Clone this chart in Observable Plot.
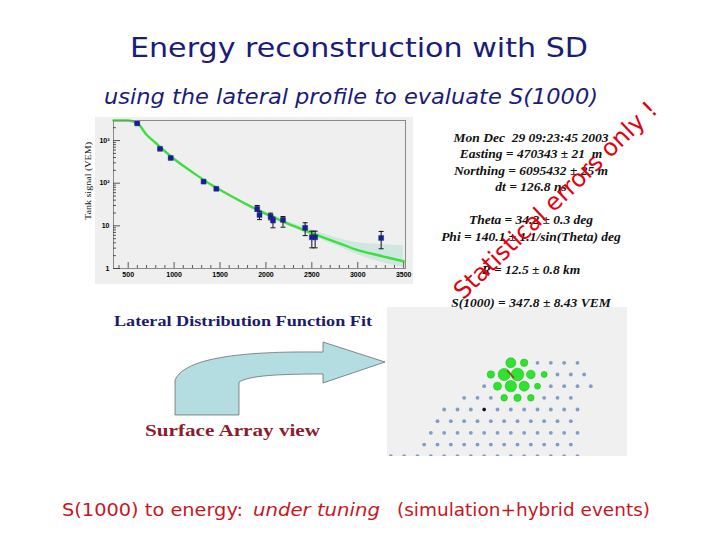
<!DOCTYPE html>
<html><head><meta charset="utf-8">
<script src="https://cdn.jsdelivr.net/npm/d3@7"></script>
<script src="https://cdn.jsdelivr.net/npm/@observablehq/plot@0.6"></script>
<style>
html,body{margin:0;padding:0;background:#fff;}
#slide{position:relative;width:720px;height:540px;overflow:hidden;background:#fff;}
.abs{position:absolute;}
</style></head><body>
<div id="slide">
  <div class="abs" style="left:95px;top:117px;width:318px;height:167px;background:#efefef"></div>
  <div class="abs" id="ldf" style="left:82px;top:110px;"></div>
  <div class="abs" id="array" style="left:387px;top:307px;width:240px;height:149px;overflow:hidden;background:#f0f0f0"></div>
  <svg id="overlay" class="abs" style="left:0;top:0;pointer-events:none" width="720" height="540"></svg>
</div>
<script>
// ---- Lateral distribution data ----
const distance   = [598, 847, 963, 1321, 1460, 1905, 1930, 2051, 2077, 2186, 2427, 2500, 2536, 3255];
const signal     = [2520, 640, 390, 109, 74, 25, 18, 16.5, 13.3, 13.8, 9.0, 5.4, 5.4, 5.2];
const signalLow  = [2440, 620, 378, 105, 71, 22, 14, 13.8, 9.0, 9.3, 5.9, 3.05, 3.05, 2.9];
const signalHigh = [2600, 660, 402, 113, 77, 30, 22, 19.8, 16, 16.5, 11.8, 7.5, 7.5, 7.4];

const fitDistance = [340, 500, 600, 700, 800, 900, 1000, 1200, 1400, 1600, 1800, 2000, 2200, 2400, 2600, 2800, 3000, 3200, 3500];
const fitSignal   = [6000, 4000, 2550, 1370, 875, 560, 370, 181, 93, 53, 31, 19, 12.2, 8.2, 5.6, 3.9, 2.7, 2.1, 1.48];

const bandDistance = [1600, 1800, 2000, 2200, 2400, 2600, 2800, 3000, 3200, 3500];
const bandLow      = [51, 29, 17.5, 11, 7.2, 4.8, 3.2, 2.1, 1.5, 1.05];
const bandHigh     = [55, 33, 21, 13.8, 9.6, 6.8, 5.0, 4.0, 3.7, 3.4];

const xMajorTicks = [500, 1000, 1500, 2000, 2500, 3000, 3500];
const yMajorTicks = [1, 10, 100, 1000];
const yTickLabels = ["1", "10", "10\u00B2", "10\u00B3"];
const xDomain = [340, 3520];
const yDomain = [1, 2950];
const yAxisLabel = "Tank signal (VEM)";

// ---- Surface array (station grid and hit stations) ----
const rowStart = [18, 15, 14, 11, 8, 7, 6, 5, 0];
const rowEnd   = [28, 29, 30, 27, 28, 27, 28, 27, 28];
const hitCol    = [18, 20, 15, 17, 19, 21, 23, 16, 18, 20, 22, 17, 19, 21];
const hitRow    = [0, 0, 1, 1, 1, 1, 1, 2, 2, 2, 2, 3, 3, 3];
const hitRadius = [5, 3.7, 3.7, 6, 6.3, 4.3, 3, 4, 5.7, 5, 3, 3.3, 3.7, 3.3];
const darkCol = [14], darkRow = [4];
const coreFrom = [17.45, 0.66], coreTo = [18.45, 1.29];

// ---- Slide texts ----
const titleText = "Energy reconstruction with SD";
const subtitleText = "using the lateral profile to evaluate S(1000)";
const infoLines = [
  ["Mon Dec  29 09:23:45 2003", 141.5],
  ["Easting = 470343 \u00B1 21  m", 158],
  ["Northing = 6095432 \u00B1 25 m", 174.5],
  ["dt = 126.8 ns", 191],
  ["Theta = 34.2 \u00B1 0.3 deg", 224],
  ["Phi = 140.1 \u00B1 1.1/sin(Theta) deg", 240.5],
  ["R = 12.5 \u00B1 0.8 km", 273.5],
  ["S(1000) = 347.8 \u00B1 8.43 VEM", 306.5]
];
const warnText = "Statistical errors only !";
const ldfLabel = "Lateral Distribution Function Fit";
const arrayLabel = "Surface Array view";
const bottomParts = ["S(1000) to energy:", "under tuning", "(simulation+hybrid events)"];

// ---- tables ----
const points = distance.map((d, i) => ({d, s: signal[i], lo: signalLow[i], hi: signalHigh[i]}));
const fit = fitDistance.map((d, i) => ({d, s: fitSignal[i]}));
const band = bandDistance.map((d, i) => ({d, lo: bandLow[i], hi: bandHigh[i]}));
const xMinorTicks = d3.range(400, 3501, 100).filter(v => !xMajorTicks.includes(v));
const yMinorTicks = [];
for (const dec of yMajorTicks) for (let m = 2; m <= 9; m++) if (dec * m <= yDomain[1]) yMinorTicks.push(dec * m);

const capSymbol = {draw(ctx, size) { const w = Math.sqrt(size); ctx.moveTo(-w, 0); ctx.lineTo(w, 0); }};

const W = 340, H = 175, mL = 31, mR = 17, mT = 10, mB = 17;
const fw = W - mL - mR, fh = H - mT - mB;

const ldf = Plot.plot({
  width: W, height: H,
  marginLeft: mL, marginRight: mR, marginTop: mT, marginBottom: mB,
  style: {background: "transparent", fontFamily: "'Liberation Sans', Arial, sans-serif", fontSize: "7px", color: "#000", overflow: "visible"},
  x: {domain: xDomain},
  y: {type: "log", domain: yDomain, clamp: true},
  marks: [
    Plot.areaY(band, {x: "d", y1: "lo", y2: "hi", fill: "#cfe7de", curve: "monotone-x"}),
    Plot.line(fit, {x: "d", y: "s", stroke: "#3ddf3d", strokeWidth: 2.4, curve: "monotone-x"}),
    Plot.ruleX(points, {x: "d", y1: "lo", y2: "hi", stroke: "#111", strokeWidth: 1}),
    Plot.dot(points, {x: "d", y: "lo", symbol: capSymbol, r: 1.4, fill: "none", stroke: "#111", strokeWidth: 1}),
    Plot.dot(points, {x: "d", y: "hi", symbol: capSymbol, r: 1.4, fill: "none", stroke: "#111", strokeWidth: 1}),
    Plot.dot(points, {x: "d", y: "s", symbol: "square", r: 2.8, fill: "#1b1b9c", stroke: "#1b3b7c", strokeWidth: 0.5}),
    Plot.frame({stroke: "#8a8a8a"}),
    Plot.tickX(xMinorTicks, {x: d => d, insetTop: fh - 3, stroke: "#333", strokeWidth: 0.8}),
    Plot.tickX(xMajorTicks, {x: d => d, insetTop: fh - 6, stroke: "#333", strokeWidth: 0.8}),
    Plot.tickY(yMinorTicks, {y: d => d, insetRight: fw - 3, stroke: "#333", strokeWidth: 0.8}),
    Plot.tickY(yMajorTicks, {y: d => d, insetRight: fw - 7, stroke: "#333", strokeWidth: 0.8}),
    Plot.axisX({ticks: xMajorTicks, tickSize: 0, tickPadding: 4, tickFormat: d => String(d), fontSize: 7, fontWeight: "bold", label: null}),
    Plot.axisY({ticks: yMajorTicks, tickSize: 0, tickPadding: 4, tickFormat: d => yTickLabels[yMajorTicks.indexOf(d)], fontSize: 7, fontWeight: "bold", label: null})
  ]
});
document.getElementById("ldf").appendChild(ldf);

// array view
const stations = [];
rowStart.forEach((s, j) => { for (let k = s; k <= rowEnd[j]; k += 2) stations.push({k, j}); });
const hits = hitCol.map((k, i) => ({k, j: hitRow[i], r: hitRadius[i]}));
const darks = darkCol.map((k, i) => ({k, j: darkRow[i]}));
const arr = Plot.plot({
  width: 240, height: 149, margin: 0,
  style: {background: "transparent"},
  x: {domain: [0, 30], range: [3.33, 203.33], axis: null},
  y: {domain: [0, 8], range: [55.3, 148.7], axis: null},
  r: {type: "identity"},
  marks: [
    Plot.dot(stations, {x: "k", y: "j", r: 1.9, fill: "#7f9dc6"}),
    Plot.dot(darks, {x: "k", y: "j", r: 1.7, fill: "#111"}),
    Plot.dot(hits, {x: "k", y: "j", r: "r", fill: "#2fe42f", stroke: "#27b827", strokeWidth: 0.6}),
    Plot.link([0], {x1: () => coreFrom[0], y1: () => coreFrom[1], x2: () => coreTo[0], y2: () => coreTo[1], stroke: "#8b4a10", strokeWidth: 1.6})
  ]
});
document.getElementById("array").appendChild(arr);

// overlay texts and arrow
const ov = d3.select("#overlay");
ov.append("text").text(yAxisLabel)
  .attr("transform", "translate(91,181) rotate(-90)").attr("text-anchor", "middle")
  .attr("font-family", "'Liberation Serif', 'Times New Roman', serif").attr("font-size", 8.5)
  .attr("fill", "#111").attr("textLength", 78).attr("lengthAdjust", "spacingAndGlyphs");

ov.append("text").text(titleText)
  .attr("x", 359).attr("y", 57).attr("text-anchor", "middle")
  .attr("font-family", "'Comic Sans MS', 'DejaVu Sans', sans-serif").attr("font-size", 27)
  .attr("fill", "#1b1b78").attr("textLength", 458).attr("lengthAdjust", "spacingAndGlyphs");
ov.append("text").text(subtitleText)
  .attr("x", 104).attr("y", 104)
  .attr("font-family", "'Comic Sans MS', 'DejaVu Sans', sans-serif").attr("font-size", 21).attr("font-style", "italic")
  .attr("fill", "#1b1b78").attr("textLength", 494).attr("lengthAdjust", "spacingAndGlyphs");

infoLines.forEach(([t, y]) => {
  ov.append("text").text(t).attr("x", 531).attr("y", y).attr("text-anchor", "middle")
    .attr("font-family", "'Liberation Serif', 'Times New Roman', serif").attr("font-size", 13.5)
    .attr("font-weight", "bold").attr("font-style", "italic").attr("fill", "#111")
    .attr("xml:space", "preserve").style("white-space", "pre");
});

ov.append("path")
  .attr("d", "M175,415 L239,415 L239,382 C248,377 265,374 323,374 L323,383 L385,362 L323,342 L323,352 C240,351 185,358 175,380 Z")
  .attr("fill", "#b4dde2").attr("stroke", "#444").attr("stroke-width", 0.6);

ov.append("text").text(ldfLabel).attr("x", 114).attr("y", 326)
  .attr("font-family", "'Liberation Serif', 'Times New Roman', serif").attr("font-size", 15.5).attr("font-weight", "bold")
  .attr("fill", "#1c1c6a").attr("textLength", 258).attr("lengthAdjust", "spacingAndGlyphs");
ov.append("text").text(arrayLabel).attr("x", 145).attr("y", 436)
  .attr("font-family", "'Liberation Serif', 'Times New Roman', serif").attr("font-size", 17).attr("font-weight", "bold")
  .attr("fill", "#8b1c2c").attr("textLength", 175).attr("lengthAdjust", "spacingAndGlyphs");

ov.append("text").text(warnText)
  .attr("transform", "translate(561,206) rotate(-44)").attr("text-anchor", "middle")
  .attr("font-family", "'Comic Sans MS', 'DejaVu Sans', sans-serif").attr("font-size", 24)
  .attr("fill", "#e3000f").attr("textLength", 272).attr("lengthAdjust", "spacingAndGlyphs");

const bx = [62, 253, 397], bl = [181, 127, 253];
bottomParts.forEach((t, i) => {
  ov.append("text").text(t).attr("x", bx[i]).attr("y", 516)
    .attr("font-family", "'Comic Sans MS', 'DejaVu Sans', sans-serif").attr("font-size", 18)
    .attr("font-style", i === 1 ? "italic" : "normal")
    .attr("fill", "#c8161e").attr("textLength", bl[i]).attr("lengthAdjust", "spacingAndGlyphs");
});
</script>
</body></html>
